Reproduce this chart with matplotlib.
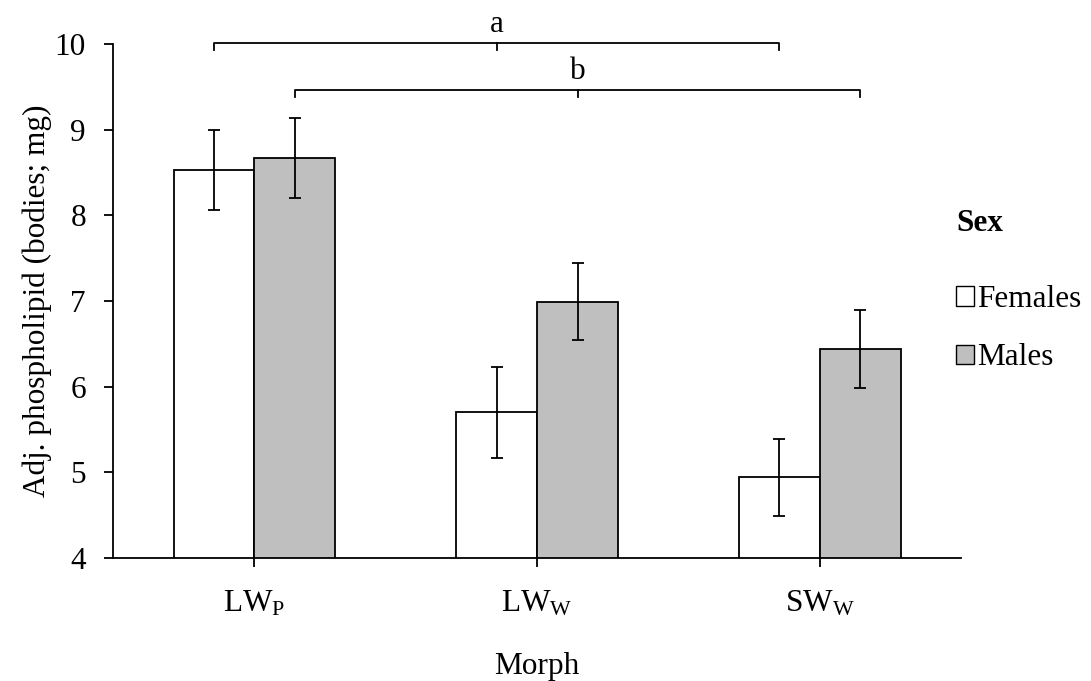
import matplotlib
matplotlib.use("Agg")
import matplotlib.pyplot as plt
from matplotlib.patches import Patch
import numpy as np

plt.rcParams['font.family'] = ['Liberation Serif', 'DejaVu Serif']
plt.rcParams['mathtext.fontset'] = 'custom'
plt.rcParams['mathtext.rm'] = 'Liberation Serif'
plt.rcParams['mathtext.it'] = 'Liberation Serif:italic'

morphs = [r'LW$_\mathregular{P}$', r'LW$_\mathregular{W}$', r'SW$_\mathregular{W}$']
females = [8.53, 5.70, 4.94]
females_err = [0.47, 0.53, 0.45]
males = [8.67, 6.99, 6.44]
males_err = [0.465, 0.45, 0.46]
sexes = ['Females', 'Males']
colors = ['white', '#BFBFBF']
sig_labels = ['a', 'b']
sig_levels = [10.01, 9.46]

FS = 22.5

fig = plt.figure(figsize=(10.91, 6.81), dpi=100)
ax = fig.add_axes([0.1036, 0.1806, 0.7774, 0.7548])

x = np.arange(len(morphs))
w = 0.286
ekw = dict(elinewidth=1.3, capthick=1.3, ecolor='black')
ax.bar(x - w/2, females, w, yerr=females_err, color=colors[0], edgecolor='black',
       linewidth=1.3, capsize=4.5, error_kw=ekw, label=sexes[0])
ax.bar(x + w/2, males, w, yerr=males_err, color=colors[1], edgecolor='black',
       linewidth=1.3, capsize=4.5, error_kw=ekw, label=sexes[1])

ax.set_xlim(-0.5, 2.5)
ax.set_ylim(4, 10)
ax.set_yticks([4, 5, 6, 7, 8, 9, 10])
ax.set_xticks(x)
ax.set_xticklabels(morphs)
ax.tick_params(axis='both', labelsize=FS, direction='out', length=6.5, width=1.3)
ax.tick_params(axis='x', pad=16)
ax.tick_params(axis='y', pad=13)
for s in ['top', 'right']:
    ax.spines[s].set_visible(False)
for s in ['left', 'bottom']:
    ax.spines[s].set_linewidth(1.3)

ax.set_ylabel('Adj. phospholipid (bodies; mg)', fontsize=FS, labelpad=2)
ax.set_xlabel('Morph', fontsize=FS, labelpad=24)

# significance brackets
offsets = [-w/2, w/2]
tick_h = 0.08
for lab, lev, off in zip(sig_labels, sig_levels, offsets):
    x0, x1 = x[0] + off, x[2] + off
    xm = (x0 + x1) / 2
    ax.plot([x0, x0, x1, x1], [lev - tick_h, lev, lev, lev - tick_h], color='black',
            lw=1.3, clip_on=False)
    ax.plot([xm, xm], [lev, lev - tick_h], color='black', lw=1.3, clip_on=False)
    ax.text(xm, lev + 0.05, lab, ha='center', va='bottom', fontsize=FS)

# legend
fig.text(956/1091, 1 - 231/681, 'Sex', fontsize=FS, fontweight='bold',
         ha='left', va='baseline')
handles = [Patch(facecolor=c, edgecolor='black', linewidth=1.0) for c in colors]
leg = fig.legend(handles, sexes, loc='upper left', bbox_to_anchor=(956/1091, 1 - 285/681),
                 frameon=False, fontsize=FS, handlelength=0.58, handleheight=0.58,
                 handletextpad=0.1, labelspacing=0.94, borderaxespad=0, borderpad=0)

fig.savefig('out.png', dpi=100)
